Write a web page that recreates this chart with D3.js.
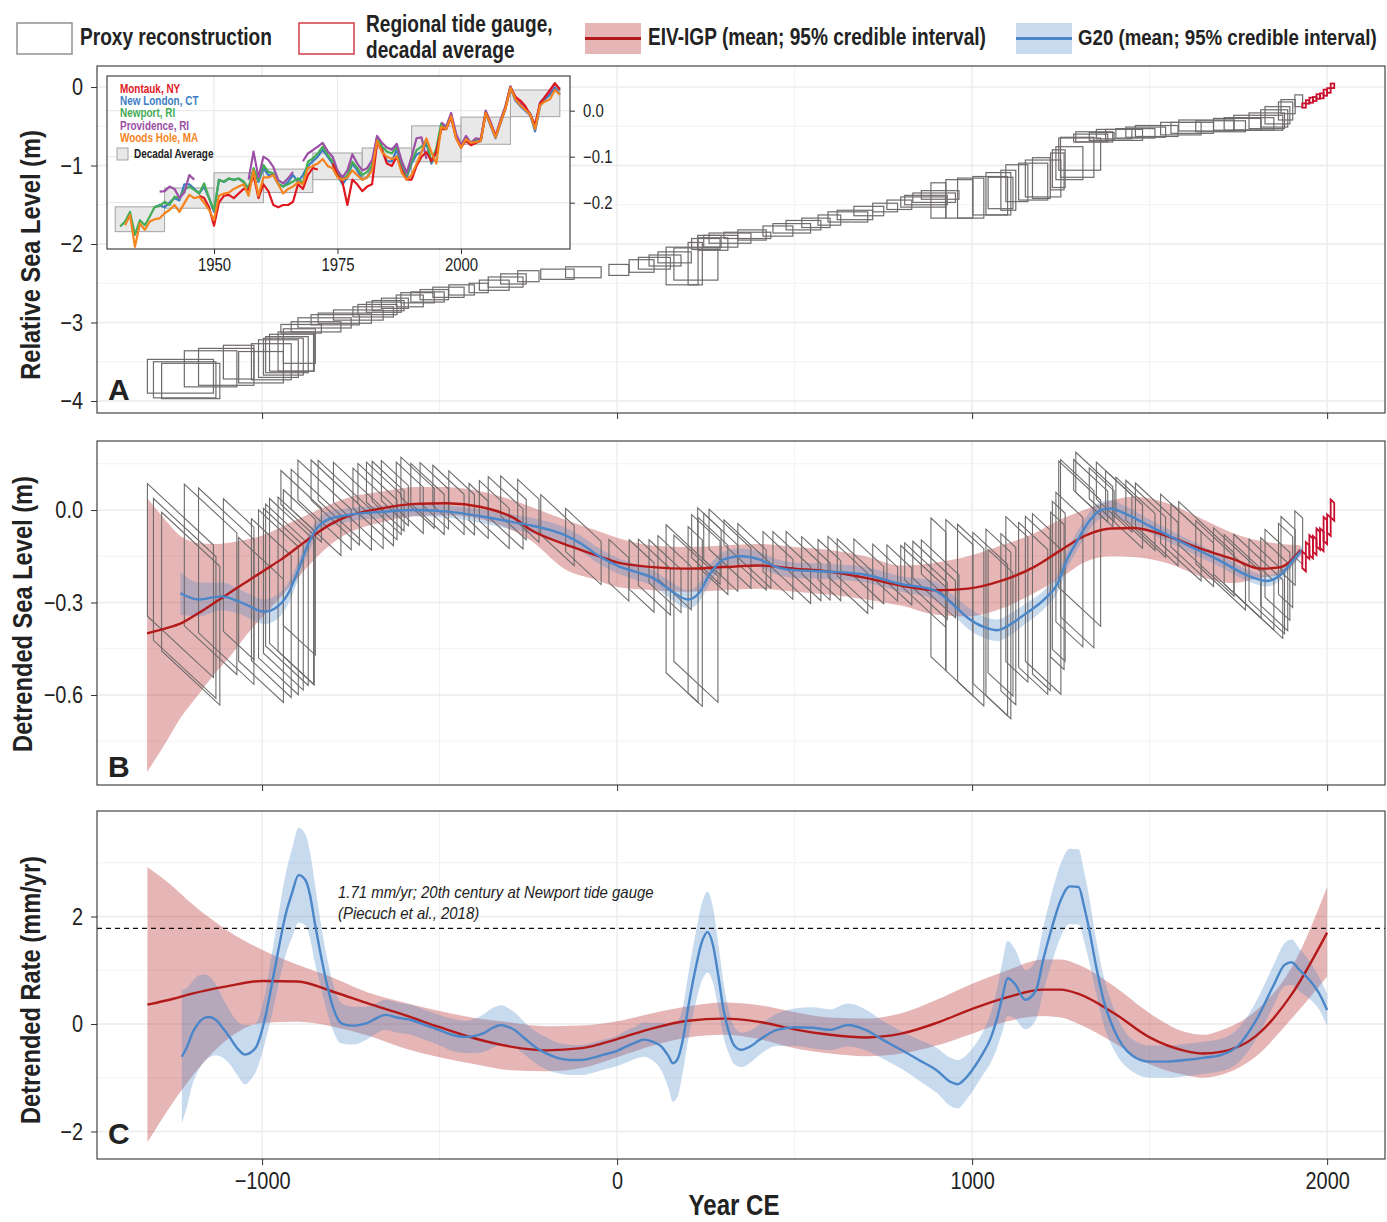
<!DOCTYPE html>
<html>
<head>
<meta charset="utf-8">
<script src="https://cdn.jsdelivr.net/npm/d3@7"></script>
<style>
  body { margin: 0; background: #fff; }
  svg text { font-family: "Liberation Sans Narrow", "Liberation Sans", Arial, sans-serif; fill: #222; }
</style>
</head>
<body>
<div id="chart"></div>
<script>
// ---------- proxy reconstruction (age CE, 2-sigma age, RSL m, 2-sigma RSL) ----------
var proxyAge = [
  -1230,-1218,-1201,-1145,-1101,-1066,-1003,-974,-954,-940,
  -930,-916,-905,-895,-890,-848,-824,-794,-767,-729,
  -687,-675,-657,-645,-626,-584,-562,-534,-515,-475,
  -438,-390,-346,-314,-292,-250,-168,-95,5,69,
  105,135,162,183,222,220,250,260,270,292,
  318,367,380,453,492,525,560,598,650,670,
  709,755,795,862,870,893,910,905,964,996,
  1051,1074,1080,1102,1126,1172,1200,1195,1240,1244,
  1274,1296,1303,1334,1344,1365,1400,1428,1460,1489,
  1520,1588,1620,1660,1700,1747,1780,1806,1830,1851,
  1860,1883,1890,1920];
var proxyAgeErr = [
  93,88,82,74,78,43,63,56,56,56,
  60,63,50,45,57,70,75,68,75,70,
  57,55,49,45,38,38,47,47,40,44,
  36,27,42,49,36,30,47,50,28,35,
  45,45,47,45,62,20,40,33,42,48,
  59,66,40,42,53,49,40,32,56,50,
  42,35,35,63,60,60,53,21,38,37,
  49,35,35,21,31,41,50,25,19,18,
  38,47,59,48,52,35,50,52,55,56,
  60,57,60,78,70,67,70,69,50,38,
  35,20,20,11];
var proxyRsl = [
  -3.685,-3.73,-3.745,-3.59,-3.565,-3.505,-3.57,-3.5,-3.46,-3.435,
  -3.41,-3.385,-3.37,-3.3,-3.08,-3.055,-3.005,-2.965,-2.945,-2.905,
  -2.865,-2.835,-2.805,-2.785,-2.755,-2.725,-2.685,-2.675,-2.645,-2.615,
  -2.585,-2.56,-2.525,-2.485,-2.445,-2.41,-2.385,-2.36,-2.33,-2.28,
  -2.245,-2.21,-2.17,-2.28,-2.255,-2.25,-2.0,-1.965,-2.0,-1.965,
  -1.925,-1.89,-1.885,-1.835,-1.8,-1.76,-1.73,-1.695,-1.655,-1.63,
  -1.58,-1.535,-1.5,-1.465,-1.44,-1.41,-1.375,-1.445,-1.425,-1.415,
  -1.385,-1.36,-1.35,-1.315,-1.225,-1.205,-1.165,-1.16,-1.075,-1.04,
  -0.97,-0.895,-0.855,-0.65,-0.635,-0.63,-0.6,-0.61,-0.59,-0.575,
  -0.56,-0.53,-0.52,-0.49,-0.5,-0.475,-0.47,-0.455,-0.43,-0.4,
  -0.36,-0.305,-0.25,-0.175];
var proxyRslErr = [
  0.215,0.23,0.225,0.23,0.235,0.215,0.2,0.23,0.24,0.235,
  0.23,0.235,0.25,0.22,0.055,0.065,0.065,0.065,0.065,0.065,
  0.065,0.065,0.065,0.065,0.065,0.075,0.065,0.065,0.065,0.065,
  0.065,0.06,0.065,0.065,0.065,0.07,0.065,0.07,0.07,0.08,
  0.075,0.07,0.07,0.24,0.205,0.27,0.07,0.075,0.08,0.075,
  0.065,0.04,0.065,0.065,0.06,0.06,0.06,0.065,0.065,0.06,
  0.06,0.055,0.06,0.065,0.06,0.06,0.055,0.225,0.245,0.255,
  0.245,0.27,0.2,0.255,0.235,0.235,0.235,0.26,0.235,0.24,
  0.21,0.255,0.205,0.05,0.065,0.05,0.06,0.07,0.06,0.065,
  0.07,0.08,0.07,0.07,0.07,0.075,0.08,0.095,0.1,0.11,
  0.11,0.115,0.09,0.075];

// regional tide gauge, decadal averages (decade start, low, high in m)
var decStart = [1930,1940,1950,1960,1970,1980,1990,2000,2010];
var decLo = [-0.263,-0.212,-0.2,-0.178,-0.15,-0.144,-0.111,-0.073,-0.013];
var decHi = [-0.209,-0.168,-0.135,-0.127,-0.092,-0.081,-0.033,-0.014,0.045];

// linear trend removed for panel B (mm/yr, reference year)
var detrendRate = 1.07;
var detrendRef = 2000;

// ---------- panel B: detrended sea level ----------
var eivBYears = [-1324,-1274,-1227,-1180,-1133,-1087,-1040,-993,-946,-899,
  -852,-805,-758,-664,-570,-477,-383,-289,-242,-150,
  -50,0,100,200,300,400,500,600,700,799,
  900,988,1081,1174,1250,1315,1390,1455,1551,1644,
  1737,1812,1869,1925];
var eivBMean = [-0.40,-0.385,-0.367,-0.335,-0.30,-0.265,-0.23,-0.195,-0.16,-0.12,
  -0.08,-0.045,-0.02,0.005,0.02,0.022,0.01,-0.027,-0.065,-0.11,
  -0.15,-0.17,-0.185,-0.19,-0.185,-0.18,-0.19,-0.2,-0.22,-0.245,
  -0.26,-0.255,-0.23,-0.185,-0.13,-0.085,-0.06,-0.058,-0.085,-0.125,
  -0.16,-0.19,-0.185,-0.13];
var eivBHi = [0.04,-0.03,-0.087,-0.107,-0.11,-0.105,-0.095,-0.08,-0.055,-0.03,
  -0.005,0.02,0.04,0.06,0.075,0.075,0.06,0.03,0.01,-0.03,
  -0.07,-0.09,-0.115,-0.12,-0.115,-0.11,-0.12,-0.13,-0.15,-0.18,
  -0.17,-0.15,-0.115,-0.076,-0.03,0.0,0.03,0.043,0.022,-0.027,
  -0.076,-0.1,-0.11,-0.114];
var eivBLo = [-0.85,-0.76,-0.67,-0.6,-0.53,-0.47,-0.40,-0.34,-0.28,-0.22,
  -0.16,-0.11,-0.075,-0.04,-0.02,-0.017,-0.03,-0.07,-0.1,-0.19,
  -0.23,-0.25,-0.26,-0.265,-0.26,-0.255,-0.265,-0.275,-0.29,-0.31,
  -0.34,-0.345,-0.32,-0.27,-0.22,-0.17,-0.15,-0.152,-0.173,-0.216,
  -0.237,-0.22,-0.21,-0.146];

var g20BYears = [-1230,-1179,-1114,-1058,-993,-965,-926,-898,-870,-842,
  -813,-757,-664,-571,-476,-383,-290,-242,-150,-100,
  -50,0,50,100,150,200,230,260,300,350,
  400,450,500,600,700,799,893,940,988,1034,
  1071,1109,1146,1203,1240,1268,1296,1334,1362,1390,
  1428,1503,1597,1691,1784,1831,1869,1906,1930];
var g20BMean = [-0.27,-0.29,-0.28,-0.30,-0.33,-0.32,-0.27,-0.195,-0.11,-0.054,
  -0.03,-0.016,-0.006,0.0,-0.005,-0.02,-0.04,-0.05,-0.08,-0.11,
  -0.15,-0.18,-0.2,-0.22,-0.26,-0.29,-0.27,-0.21,-0.16,-0.15,
  -0.16,-0.185,-0.195,-0.2,-0.21,-0.24,-0.26,-0.30,-0.35,-0.38,
  -0.39,-0.37,-0.34,-0.29,-0.24,-0.16,-0.10,-0.03,0.0,0.005,
  -0.01,-0.054,-0.108,-0.16,-0.216,-0.23,-0.21,-0.16,-0.13];
var g20BErr = [0.07,0.055,0.045,0.04,0.04,0.04,0.035,0.03,0.03,0.025,
  0.025,0.022,0.02,0.02,0.02,0.022,0.025,0.025,0.025,0.025,
  0.025,0.025,0.025,0.025,0.028,0.03,0.03,0.03,0.025,0.025,
  0.025,0.025,0.025,0.025,0.025,0.025,0.03,0.03,0.035,0.035,
  0.035,0.035,0.033,0.03,0.03,0.03,0.03,0.028,0.028,0.028,
  0.025,0.022,0.02,0.02,0.018,0.018,0.018,0.016,0.015];

// ---------- panel C: detrended rate (mm/yr) ----------
var eivCYears = [-1323,-1250,-1200,-1100,-1000,-900,-800,-700,-600,-500,
  -400,-300,-200,-100,0,100,200,300,400,500,
  600,700,800,900,1000,1100,1200,1250,1300,1400,
  1500,1600,1650,1700,1800,1900,2000];
var eivCMean = [0.36,0.47,0.56,0.7,0.8,0.79,0.6,0.38,0.17,-0.06,
  -0.27,-0.42,-0.49,-0.45,-0.28,-0.08,0.06,0.1,0.04,-0.1,
  -0.2,-0.25,-0.18,0.02,0.28,0.5,0.64,0.64,0.56,0.2,
  -0.25,-0.5,-0.55,-0.52,-0.22,0.55,1.7];
var eivCHi = [2.92,2.55,2.25,1.75,1.38,1.1,0.86,0.58,0.4,0.24,
  0.11,0.03,-0.04,-0.03,0.05,0.2,0.33,0.4,0.35,0.22,
  0.12,0.1,0.2,0.45,0.75,1.0,1.2,1.2,1.1,0.7,
  0.2,-0.15,-0.2,-0.12,0.25,1.05,2.55];
var eivCLo = [-2.2,-1.45,-1.0,-0.3,0.02,0.04,-0.05,-0.22,-0.45,-0.62,
  -0.75,-0.86,-0.88,-0.82,-0.62,-0.4,-0.25,-0.2,-0.28,-0.45,
  -0.55,-0.6,-0.55,-0.4,-0.18,0.05,0.15,0.12,0.0,-0.35,
  -0.75,-0.95,-1.0,-0.95,-0.6,0.1,0.88];

var g20CYears = [-1226,-1211,-1195,-1179,-1160,-1148,-1129,-1110,-1092,-1070,
  -1048,-1030,-1016,-991,-975,-954,-935,-916,-897,-878,
  -865,-853,-835,-816,-797,-778,-760,-740,-720,-703,
  -680,-652,-620,-577,-540,-502,-465,-427,-400,-376,
  -350,-326,-305,-289,-260,-226,-195,-163,-130,-100,
  -70,-38,0,25,50,75,100,125,145,157,
  170,185,200,220,240,255,270,285,300,315,
  330,350,375,400,450,500,550,600,650,700,
  750,800,850,900,940,960,980,1000,1030,1050,
  1070,1085,1100,1120,1150,1180,1200,1225,1250,1275,
  1300,1315,1330,1350,1370,1400,1450,1500,1550,1600,
  1650,1700,1750,1800,1850,1880,1900,1920,1950,1980,
  2000];
var g20CMean = [-0.61,-0.42,-0.15,0.02,0.12,0.13,0.07,-0.08,-0.24,-0.45,
  -0.57,-0.52,-0.42,0.13,0.65,1.38,2.0,2.43,2.77,2.68,
  2.4,1.94,1.3,0.7,0.25,0.02,-0.02,-0.03,-0.01,0.02,
  0.1,0.17,0.12,0.07,-0.02,-0.11,-0.2,-0.24,-0.22,-0.17,
  -0.07,-0.02,-0.06,-0.11,-0.27,-0.45,-0.56,-0.64,-0.67,-0.67,
  -0.63,-0.57,-0.5,-0.42,-0.35,-0.29,-0.33,-0.42,-0.6,-0.73,
  -0.66,-0.3,0.3,1.0,1.55,1.71,1.47,0.9,0.26,-0.15,
  -0.4,-0.48,-0.42,-0.3,-0.11,-0.06,-0.07,-0.11,-0.02,-0.11,
  -0.3,-0.48,-0.67,-0.86,-1.08,-1.12,-1.02,-0.86,-0.55,-0.3,
  0.1,0.5,0.85,0.75,0.45,0.63,1.19,1.8,2.31,2.56,
  2.55,2.2,1.75,1.05,0.45,-0.11,-0.58,-0.7,-0.7,-0.67,
  -0.63,-0.58,-0.4,0.07,0.73,1.1,1.15,1.02,0.82,0.54,
  0.26];
var g20CErr = [1.24,1.1,0.95,0.88,0.8,0.75,0.65,0.55,0.5,0.5,
  0.55,0.5,0.45,0.45,0.55,0.65,0.75,0.82,0.88,0.85,
  0.8,0.75,0.6,0.5,0.42,0.38,0.36,0.35,0.33,0.3,
  0.28,0.28,0.28,0.28,0.28,0.28,0.3,0.3,0.32,0.35,
  0.37,0.37,0.35,0.33,0.3,0.3,0.3,0.28,0.28,0.28,
  0.28,0.28,0.28,0.3,0.3,0.32,0.35,0.45,0.6,0.72,
  0.7,0.6,0.6,0.65,0.72,0.75,0.7,0.6,0.5,0.4,
  0.35,0.32,0.3,0.28,0.3,0.35,0.38,0.38,0.4,0.38,
  0.35,0.35,0.38,0.42,0.45,0.45,0.42,0.4,0.4,0.45,
  0.55,0.65,0.7,0.65,0.55,0.55,0.6,0.65,0.68,0.7,
  0.7,0.65,0.6,0.5,0.45,0.38,0.3,0.3,0.3,0.3,
  0.3,0.3,0.32,0.35,0.38,0.4,0.42,0.4,0.35,0.3,
  0.3];

var newportRate = 1.78;   // dashed reference line as drawn

// ---------- inset: annual tide-gauge series 1930-2020 (m) ----------
var gaugeYears = d3.range(1930, 2021);
var montauk = [
  null,null,null,null,null,null,null,null,null,null,
  null,null,null,null,null,null,null,-0.185,-0.19,-0.21,
  -0.25,-0.2,-0.185,-0.183,-0.19,-0.18,-0.17,-0.172,-0.14,-0.19,
  -0.16,-0.175,-0.205,-0.21,-0.205,-0.205,-0.198,-0.16,-0.17,-0.14,
  -0.125,-0.128,null,null,-0.115,-0.14,-0.155,-0.205,-0.15,-0.16,
  -0.175,-0.165,-0.16,-0.07,-0.085,-0.115,-0.12,-0.1,-0.13,-0.15,
  -0.15,-0.12,-0.1,-0.09,-0.11,-0.09,-0.04,-0.04,-0.015,-0.06,
  -0.08,-0.065,-0.075,-0.07,-0.065,-0.005,-0.03,-0.055,-0.025,0.005,
  0.05,0.03,0.022,0.01,-0.01,-0.03,0.015,0.03,0.045,0.06,
  0.045];
var newLondon = [
  null,null,null,null,null,null,null,null,-0.21,-0.205,
  -0.21,-0.2,-0.19,-0.195,-0.16,-0.16,-0.17,-0.18,-0.165,-0.19,
  -0.22,-0.15,-0.155,-0.148,-0.15,-0.148,-0.155,-0.17,-0.13,-0.155,
  -0.125,-0.14,-0.14,-0.16,-0.165,-0.155,-0.14,-0.155,-0.14,-0.12,
  -0.11,-0.1,-0.085,-0.1,-0.115,-0.14,-0.16,-0.145,-0.115,-0.13,
  -0.15,-0.145,-0.125,-0.06,-0.085,-0.11,-0.11,-0.085,-0.12,-0.145,
  -0.115,-0.095,-0.09,-0.07,-0.115,-0.09,-0.03,-0.04,-0.012,-0.055,
  -0.08,-0.06,-0.072,-0.067,-0.066,-0.005,-0.033,-0.06,-0.027,0.005,
  0.05,0.022,0.01,0.0,-0.01,-0.045,0.01,0.025,0.035,0.05,
  0.035];
var newport = [
  null,-0.252,-0.241,-0.22,-0.27,-0.238,-0.249,-0.23,-0.209,-0.207,
  -0.198,-0.205,-0.187,-0.19,-0.172,-0.165,-0.172,-0.18,-0.158,-0.19,
  -0.216,-0.151,-0.154,-0.147,-0.151,-0.147,-0.154,-0.169,-0.125,-0.151,
  -0.118,-0.133,-0.136,-0.158,-0.165,-0.16,-0.154,-0.147,-0.158,-0.111,
  -0.104,-0.093,-0.078,-0.096,-0.111,-0.136,-0.151,-0.14,-0.111,-0.125,
  -0.14,-0.133,-0.118,-0.057,-0.078,-0.089,-0.093,-0.078,-0.114,-0.14,
  -0.111,-0.086,-0.078,-0.064,-0.111,-0.082,-0.028,-0.035,-0.009,-0.053,
  -0.078,-0.057,-0.071,-0.064,-0.064,-0.002,-0.028,-0.057,-0.024,0.009,
  0.052,0.027,0.016,0.005,-0.006,-0.035,0.016,0.03,0.041,0.059,
  0.045];
var providence = [
  null,null,null,null,null,null,null,null,null,-0.176,
  -0.175,-0.165,-0.17,-0.19,-0.178,-0.14,-0.15,null,null,null,
  null,null,null,null,null,null,null,-0.15,-0.089,-0.145,
  -0.1,-0.107,-0.122,-0.151,-0.158,-0.147,-0.133,null,-0.11,-0.093,
  -0.086,-0.078,-0.07,-0.088,-0.1,-0.13,-0.145,-0.13,-0.095,-0.115,
  -0.13,-0.125,-0.108,-0.055,-0.07,-0.08,-0.085,-0.072,-0.11,-0.135,
  -0.1,-0.06,-0.058,-0.105,null,null,-0.025,-0.035,-0.005,-0.05,
  -0.075,-0.055,-0.07,-0.06,-0.062,0.0,-0.025,-0.055,-0.02,0.01,
  0.053,0.028,0.017,0.006,-0.006,-0.036,0.018,0.03,0.04,0.058,
  0.048];
var woodsHole = [
  null,null,-0.249,-0.227,-0.296,-0.245,-0.259,-0.241,-0.236,-0.234,
  -0.223,-0.216,-0.205,-0.22,-0.201,-0.183,-0.19,-0.187,-0.2,-0.216,
  -0.238,-0.185,-0.18,-0.178,-0.17,-0.165,-0.16,-0.185,-0.13,-0.185,
  -0.145,-0.145,-0.14,-0.16,-0.18,-0.17,-0.165,-0.155,-0.16,-0.125,
  -0.12,-0.115,-0.105,-0.12,-0.125,-0.145,-0.15,-0.145,-0.13,-0.14,
  -0.15,-0.145,-0.13,-0.065,-0.09,-0.1,-0.105,-0.1,-0.135,-0.15,
  -0.14,-0.115,-0.09,-0.06,-0.09,-0.115,-0.035,-0.04,-0.012,-0.06,
  -0.08,-0.062,-0.07,-0.068,-0.066,-0.005,-0.03,-0.058,-0.025,0.005,
  0.05,0.025,0.012,0.002,-0.008,-0.04,0.012,0.02,0.025,0.045,
  0.035];
var stationNames = ["Montauk, NY","New London, CT","Newport, RI","Providence, RI","Woods Hole, MA"];
var stationColors = ["#e0181f","#3d7cc4","#45ad55","#9b4fa5","#f5841f"];

// ---------- layout ----------
var W = 1387, H = 1222;
var L = 97, R = 1385;
var panelA = [66, 413], panelB = [441, 785], panelC = [811, 1159];

var svg = d3.select("#chart").append("svg")
    .attr("width", W).attr("height", H);
svg.append("rect").attr("width", W).attr("height", H).attr("fill", "#fff");

var x = d3.scaleLinear().domain([-1465, 2163]).range([L, R]);
var yA = d3.scaleLinear().domain([-4.153, 0.268]).range([panelA[1], panelA[0]]);
var yB = d3.scaleLinear().domain([-0.892, 0.224]).range([panelB[1], panelB[0]]);
var yC = d3.scaleLinear().domain([-2.512, 3.963]).range([panelC[1], panelC[0]]);

var defs = svg.append("defs");
[["clipA", panelA], ["clipB", panelB], ["clipC", panelC]].forEach(function (c) {
  defs.append("clipPath").attr("id", c[0]).append("rect")
      .attr("x", L).attr("y", c[1][0]).attr("width", R - L).attr("height", c[1][1] - c[1][0]);
});

function grid(y, panel, major, minor) {
  var g = svg.append("g");
  var xMajor = [-1000, 0, 1000, 2000], xMinor = [-500, 500, 1500];
  g.selectAll(".ymn").data(minor).enter().append("line")
      .attr("x1", L).attr("x2", R).attr("y1", y).attr("y2", y)
      .attr("stroke", "#efefef").attr("stroke-width", 0.8);
  g.selectAll(".xmn").data(xMinor).enter().append("line")
      .attr("x1", x).attr("x2", x).attr("y1", panel[0]).attr("y2", panel[1])
      .attr("stroke", "#efefef").attr("stroke-width", 0.8);
  g.selectAll(".ymj").data(major).enter().append("line")
      .attr("x1", L).attr("x2", R).attr("y1", y).attr("y2", y)
      .attr("stroke", "#ebebeb").attr("stroke-width", 1.3);
  g.selectAll(".xmj").data(xMajor).enter().append("line")
      .attr("x1", x).attr("x2", x).attr("y1", panel[0]).attr("y2", panel[1])
      .attr("stroke", "#ebebeb").attr("stroke-width", 1.3);
}

grid(yA, panelA, [0, -1, -2, -3, -4], [-0.5, -1.5, -2.5, -3.5]);
grid(yB, panelB, [0, -0.3, -0.6], [0.15, -0.15, -0.45, -0.75]);
grid(yC, panelC, [2, 0, -2], [3, 1, -1]);

var proxies = proxyAge.map(function (a, i) {
  return {t1: a - proxyAgeErr[i], t2: a + proxyAgeErr[i],
          lo: proxyRsl[i] - proxyRslErr[i], hi: proxyRsl[i] + proxyRslErr[i]};
});
var gauges = decStart.map(function (s, i) {
  return {t1: s, t2: s + 10, lo: decLo[i], hi: decHi[i]};
});

function detrend(t, v) { return v + detrendRate / 1000 * (detrendRef - t); }
function parallelogram(d) {
  return "M" + x(d.t1) + "," + yB(detrend(d.t1, d.hi)) +
         "L" + x(d.t2) + "," + yB(detrend(d.t2, d.hi)) +
         "L" + x(d.t2) + "," + yB(detrend(d.t2, d.lo)) +
         "L" + x(d.t1) + "," + yB(detrend(d.t1, d.lo)) + "Z";
}

var proxyCol = "#6f6b6b", gaugeCol = "#c8102e";
var eivCol = "#b31b1b", eivFill = "#b22222", g20Col = "#4a86c8";

// ---------- panel A ----------
var gA = svg.append("g").attr("clip-path", "url(#clipA)");
gA.selectAll(".px").data(proxies).enter().append("rect")
    .attr("x", function (d) { return x(d.t1); })
    .attr("y", function (d) { return yA(d.hi); })
    .attr("width", function (d) { return x(d.t2) - x(d.t1); })
    .attr("height", function (d) { return yA(d.lo) - yA(d.hi); })
    .attr("fill", "none").attr("stroke", proxyCol).attr("stroke-width", 1.2);
gA.selectAll(".tg").data(gauges).enter().append("rect")
    .attr("x", function (d) { return x(d.t1); })
    .attr("y", function (d) { return yA(d.hi); })
    .attr("width", function (d) { return x(d.t2) - x(d.t1); })
    .attr("height", function (d) { return yA(d.lo) - yA(d.hi); })
    .attr("fill", "none").attr("stroke", gaugeCol).attr("stroke-width", 1.8);

// ---------- panel B ----------
var gB = svg.append("g").attr("clip-path", "url(#clipB)");
var eivB = eivBYears.map(function (t, i) { return [t, eivBMean[i], eivBLo[i], eivBHi[i]]; });
var g20B = g20BYears.map(function (t, i) { return [t, g20BMean[i], g20BMean[i] - g20BErr[i], g20BMean[i] + g20BErr[i]]; });

function band(y) {
  return d3.area().x(function (d) { return x(d[0]); })
      .y0(function (d) { return y(d[2]); }).y1(function (d) { return y(d[3]); })
      .curve(d3.curveMonotoneX);
}
function mean(y) {
  return d3.line().x(function (d) { return x(d[0]); })
      .y(function (d) { return y(d[1]); }).curve(d3.curveMonotoneX);
}

gB.append("path").datum(eivB).attr("d", band(yB)).attr("fill", eivFill).attr("fill-opacity", 0.33);
gB.append("path").datum(g20B).attr("d", band(yB)).attr("fill", g20Col).attr("fill-opacity", 0.3);
gB.selectAll(".pp").data(proxies).enter().append("path")
    .attr("d", parallelogram)
    .attr("fill", "none").attr("stroke", proxyCol).attr("stroke-width", 1.1);
gB.append("path").datum(eivB).attr("d", mean(yB)).attr("fill", "none")
    .attr("stroke", eivCol).attr("stroke-width", 2.4);
gB.append("path").datum(g20B).attr("d", mean(yB)).attr("fill", "none")
    .attr("stroke", g20Col).attr("stroke-width", 2.4);
gB.selectAll(".tp").data(gauges).enter().append("path")
    .attr("d", parallelogram)
    .attr("fill", "none").attr("stroke", gaugeCol).attr("stroke-width", 1.8);

// ---------- panel C ----------
var gC = svg.append("g").attr("clip-path", "url(#clipC)");
var eivC = eivCYears.map(function (t, i) { return [t, eivCMean[i], eivCLo[i], eivCHi[i]]; });
var g20C = g20CYears.map(function (t, i) { return [t, g20CMean[i], g20CMean[i] - g20CErr[i], g20CMean[i] + g20CErr[i]]; });

gC.append("path").datum(eivC).attr("d", band(yC)).attr("fill", eivFill).attr("fill-opacity", 0.33);
gC.append("path").datum(g20C).attr("d", band(yC)).attr("fill", g20Col).attr("fill-opacity", 0.3);
gC.append("line").attr("x1", L).attr("x2", R)
    .attr("y1", yC(newportRate)).attr("y2", yC(newportRate))
    .attr("stroke", "#111").attr("stroke-width", 1.4).attr("stroke-dasharray", "5,4");
gC.append("path").datum(eivC).attr("d", mean(yC)).attr("fill", "none")
    .attr("stroke", eivCol).attr("stroke-width", 2.4);
gC.append("path").datum(g20C).attr("d", mean(yC)).attr("fill", "none")
    .attr("stroke", g20Col).attr("stroke-width", 2.4);

// ---------- axes ----------
function yAxis(y, ticks, fmt) {
  var g = svg.append("g").attr("transform", "translate(" + L + ",0)")
      .call(d3.axisLeft(y).tickValues(ticks).tickFormat(fmt).tickSize(6).tickPadding(8))
      .attr("font-size", 24).attr("color", "#333");
  g.select(".domain").remove();
}
function xAxis(panel, labels) {
  var g = svg.append("g").attr("transform", "translate(0," + panel[1] + ")")
      .call(d3.axisBottom(x).tickValues([-1000, 0, 1000, 2000])
        .tickFormat(labels ? d3.format("d") : "").tickSize(6).tickPadding(7))
      .attr("font-size", 24).attr("color", "#333");
  g.select(".domain").remove();
}
yAxis(yA, [0, -1, -2, -3, -4], d3.format("d"));
yAxis(yB, [0, -0.3, -0.6], d3.format(".1f"));
yAxis(yC, [2, 0, -2], d3.format("d"));
xAxis(panelA, false);
xAxis(panelB, false);
xAxis(panelC, true);

[panelA, panelB, panelC].forEach(function (p) {
  svg.append("rect").attr("x", L).attr("y", p[0]).attr("width", R - L).attr("height", p[1] - p[0])
      .attr("fill", "none").attr("stroke", "#333").attr("stroke-width", 1.1);
});

// axis titles
function yTitle(txt, xPos, yMid) {
  svg.append("text").attr("transform", "translate(" + xPos + "," + yMid + ") rotate(-90)")
      .attr("text-anchor", "middle").attr("font-size", 28.5).attr("font-weight", "bold").text(txt);
}
yTitle("Relative Sea Level (m)", 40, 255);
yTitle("Detrended Sea Level (m)", 32, 614);
yTitle("Detrended Rate (mm/yr)", 40, 990);
svg.append("text").attr("x", 734).attr("y", 1215).attr("text-anchor", "middle")
    .attr("font-size", 29).attr("font-weight", "bold").text("Year CE");

// ---------- legend ----------
var lg = svg.append("g").attr("font-size", 23).attr("font-weight", "bold");
lg.append("rect").attr("x", 17).attr("y", 23).attr("width", 55).attr("height", 31)
    .attr("fill", "#fff").attr("stroke", "#8a8a8a").attr("stroke-width", 1.4);
lg.append("text").attr("x", 80).attr("y", 45).text("Proxy reconstruction");
lg.append("rect").attr("x", 299).attr("y", 23).attr("width", 55).attr("height", 31)
    .attr("fill", "#fff").attr("stroke", "#d0303a").attr("stroke-width", 1.4);
lg.append("text").attr("x", 366).attr("y", 32).text("Regional tide gauge,");
lg.append("text").attr("x", 366).attr("y", 58).text("decadal average");
lg.append("rect").attr("x", 585).attr("y", 23).attr("width", 56).attr("height", 31)
    .attr("fill", eivFill).attr("fill-opacity", 0.33);
lg.append("line").attr("x1", 585).attr("x2", 641).attr("y1", 38.5).attr("y2", 38.5)
    .attr("stroke", eivCol).attr("stroke-width", 3);
lg.append("text").attr("x", 648).attr("y", 45).text("EIV-IGP (mean; 95% credible interval)");
lg.append("rect").attr("x", 1016).attr("y", 23).attr("width", 56).attr("height", 31)
    .attr("fill", g20Col).attr("fill-opacity", 0.3);
lg.append("line").attr("x1", 1016).attr("x2", 1072).attr("y1", 38.5).attr("y2", 38.5)
    .attr("stroke", g20Col).attr("stroke-width", 3);
lg.append("text").attr("x", 1078).attr("y", 45).attr("font-size", 22.5)
    .text("G20 (mean; 95% credible interval)");

// ---------- inset ----------
var iL = 107, iR = 570, iT = 76, iB = 249;
var xi = d3.scaleLinear().domain([1928.34, 2022.06]).range([iL, iR]);
var yi = d3.scaleLinear().domain([-0.3007, 0.0754]).range([iB, iT]);
var gi = svg.append("g");
gi.append("rect").attr("x", iL).attr("y", iT).attr("width", iR - iL).attr("height", iB - iT)
    .attr("fill", "#fff");
gi.selectAll(".ixg").data([1950, 1975, 2000]).enter().append("line")
    .attr("x1", xi).attr("x2", xi).attr("y1", iT).attr("y2", iB)
    .attr("stroke", "#ebebeb").attr("stroke-width", 1.3);
gi.selectAll(".iyg").data([0, -0.1, -0.2]).enter().append("line")
    .attr("x1", iL).attr("x2", iR).attr("y1", yi).attr("y2", yi)
    .attr("stroke", "#ebebeb").attr("stroke-width", 1.3);
gi.selectAll(".dec").data(gauges).enter().append("rect")
    .attr("x", function (d) { return xi(d.t1); })
    .attr("y", function (d) { return yi(d.hi); })
    .attr("width", function (d) { return xi(d.t2) - xi(d.t1); })
    .attr("height", function (d) { return yi(d.lo) - yi(d.hi); })
    .attr("fill", "#e7e8e7").attr("stroke", "#a3a3a3").attr("stroke-width", 1);

var stationSeries = [montauk, newLondon, newport, providence, woodsHole];
var gaugeLine = d3.line()
    .defined(function (d) { return d[1] != null; })
    .x(function (d) { return xi(d[0]); })
    .y(function (d) { return yi(d[1]); });
[1, 2, 3, 0, 4].forEach(function (k) {
  var pts = gaugeYears.map(function (t, i) { return [t, stationSeries[k][i]]; });
  gi.append("path").datum(pts).attr("d", gaugeLine).attr("fill", "none")
      .attr("stroke", stationColors[k]).attr("stroke-width", 2.2).attr("stroke-linejoin", "round");
});
gi.append("rect").attr("x", iL).attr("y", iT).attr("width", iR - iL).attr("height", iB - iT)
    .attr("fill", "none").attr("stroke", "#444").attr("stroke-width", 1.2);

var gix = gi.append("g").attr("transform", "translate(0," + iB + ")")
    .call(d3.axisBottom(xi).tickValues([1950, 1975, 2000]).tickFormat(d3.format("d")).tickSize(5).tickPadding(4))
    .attr("font-size", 18).attr("color", "#333");
gix.select(".domain").remove();
var giy = gi.append("g").attr("transform", "translate(" + iR + ",0)")
    .call(d3.axisRight(yi).tickValues([0, -0.1, -0.2]).tickFormat(d3.format(".1f")).tickSize(5).tickPadding(8))
    .attr("font-size", 18).attr("color", "#333");
giy.select(".domain").remove();

var ilg = gi.append("g").attr("font-size", 12).attr("font-weight", "bold");
stationNames.forEach(function (n, k) {
  ilg.append("text").attr("x", 120).attr("y", 93 + k * 12.2).text(n)
      .style("fill", stationColors[k]);
});
ilg.append("rect").attr("x", 117).attr("y", 148).attr("width", 11).attr("height", 12)
    .attr("fill", "#e7e8e7").attr("stroke", "#a3a3a3");
ilg.append("text").attr("x", 134).attr("y", 158).text("Decadal Average");

// ---------- condense text horizontally (no narrow face installed) ----------
function narrow(sel, k) {
  sel.each(function () {
    var x0 = +this.getAttribute("x") || 0;
    var t = this.getAttribute("transform") || "";
    this.setAttribute("transform",
      t + " translate(" + x0 + ",0) scale(" + k + ",1) translate(" + (-x0) + ",0)");
  });
}
narrow(svg.selectAll("text"), 0.83);

// annotation in panel C (a little less condensed)
var noteLines = ["1.71 mm/yr; 20th century at Newport tide gauge", "(Piecuch et al., 2018)"];
noteLines.forEach(function (s, i) {
  var t = svg.append("text").attr("x", 338).attr("y", 898 + i * 21.5).attr("font-size", 16)
      .attr("font-style", "italic").text(s);
  narrow(t, 0.935);
});

// panel letters (regular width)
[["A", 400], ["B", 777], ["C", 1144]].forEach(function (p) {
  svg.append("text").attr("x", 108).attr("y", p[1]).text(p[0])
      .attr("font-size", 30).attr("font-weight", "bold")
      .style("font-family", "'Liberation Sans', Arial, sans-serif");
});
</script>
</body>
</html>
